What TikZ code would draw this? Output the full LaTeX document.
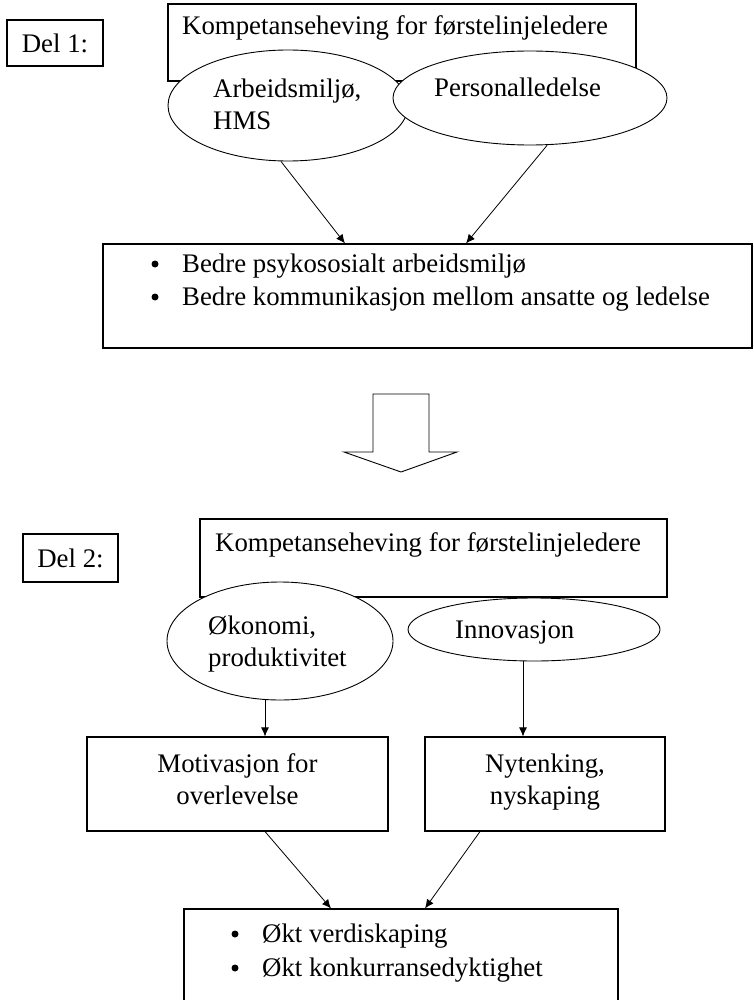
\documentclass[tikz,border=0pt]{standalone}
\usepackage{fontspec}
\setmainfont{Liberation Serif}
\usetikzlibrary{shapes.geometric,arrows.meta,calc}
\tikzset{
  boxnode/.style={draw,line width=1.1pt,fill=white,rectangle,inner sep=0pt},
  ellnode/.style={draw,line width=0.9pt,fill=white,ellipse,inner sep=0pt},
  txt/.style={inner sep=0pt,anchor=base west,font=\fontsize{26.8pt}{32pt}\selectfont},
  ctxt/.style={inner sep=0pt,anchor=base,font=\fontsize{26.8pt}{32pt}\selectfont},
  bul/.style={circle,fill=black,inner sep=0pt,minimum size=7pt},
  arr/.style={line width=0.8pt,-{Latex[length=9pt,width=8pt]}},
}
\begin{document}
\begin{tikzpicture}[x=1pt,y=-1pt]
\useasboundingbox (0,0) rectangle (754,1000);
\clip (0,0) rectangle (754,1000);
% ---------- Part 1 ----------
\node[boxnode,minimum width=96pt,minimum height=46pt] (del1) at (55,43) {};
\node[ctxt] (del1t) at (55,53) {Del 1:};
\node[boxnode,minimum width=468pt,minimum height=77pt] (top1) at (402,42.5) {};
\node[txt] (top1t) at (182,35) {Kompetanseheving for førstelinjeledere};
\node[ellnode,minimum width=240pt,minimum height=111pt] (ellA) at (288,105.5) {};
\node[ellnode,minimum width=274pt,minimum height=94pt] (ellP) at (530,98) {};
\node[txt] (ellAt1) at (213,98) {Arbeidsmiljø,};
\node[txt] (ellAt2) at (213,130) {HMS};
\node[txt] (ellPt) at (434,97) {Personalledelse};
\node[boxnode,minimum width=649pt,minimum height=104pt] (res1) at (427.5,296) {};
\node[bul] (b11) at (155,264) {};
\node[txt] (r1t1) at (182,272) {Bedre psykososialt arbeidsmiljø};
\node[bul] (b12) at (155,297) {};
\node[txt] (r1t2) at (182,305) {Bedre kommunikasjon mellom ansatte og ledelse};
\draw[arr] ([xshift=-7pt]ellA.south) -- ([xshift=-82.5pt]res1.north);
\draw[arr] ([xshift=17pt]ellP.south) -- ([xshift=38.5pt]res1.north);
% ---------- block arrow ----------
\draw[line width=0.9pt,line join=miter] (373,394) -- (429,394) -- (429,452) -- (457,452) -- (401,472) -- (344,452) -- (373,452) -- cycle;
% ---------- Part 2 ----------
\node[boxnode,minimum width=95pt,minimum height=48pt] (del2) at (70.5,558) {};
\node[ctxt] (del2t) at (70.5,567) {Del 2:};
\node[boxnode,minimum width=467pt,minimum height=78pt] (top2) at (433.5,558) {};
\node[txt] (top2t) at (215,551) {Kompetanseheving for førstelinjeledere};
\node[ellnode,minimum width=226pt,minimum height=118pt] (ellO) at (280,641) {};
\node[ellnode,minimum width=252pt,minimum height=63pt] (ellI) at (534,629.5) {};
\node[txt] (ellOt1) at (208,634) {Økonomi,};
\node[txt] (ellOt2) at (208,666) {produktivitet};
\node[txt] (ellIt) at (455,638) {Innovasjon};
\node[boxnode,minimum width=301pt,minimum height=94pt] (mot) at (237.5,784) {};
\node[ctxt] (mott1) at (237.5,772) {Motivasjon for};
\node[ctxt] (mott2) at (237.5,804) {overlevelse};
\node[boxnode,minimum width=240pt,minimum height=94pt] (nyt) at (545,784) {};
\node[ctxt] (nytt1) at (545,772) {Nytenking,};
\node[ctxt] (nytt2) at (545,804) {nyskaping};
\node[boxnode,minimum width=434pt,minimum height=110pt] (okt) at (401,964) {};
\node[bul] (b21) at (235,934) {};
\node[txt] (okt1) at (262,942) {Økt verdiskaping};
\node[bul] (b22) at (235,968) {};
\node[txt] (okt2) at (262,976) {Økt konkurransedyktighet};
\draw[arr] ([xshift=-15pt]ellO.south) -- ([xshift=27.5pt]mot.north);
\draw[arr] ([xshift=-11pt]ellI.south) -- ([xshift=-22pt]nyt.north);
\draw[arr] ([xshift=27.5pt]mot.south) -- ([xshift=-70pt]okt.north);
\draw[arr] ([xshift=-65pt]nyt.south) -- ([xshift=24pt]okt.north);
\end{tikzpicture}
\end{document}
